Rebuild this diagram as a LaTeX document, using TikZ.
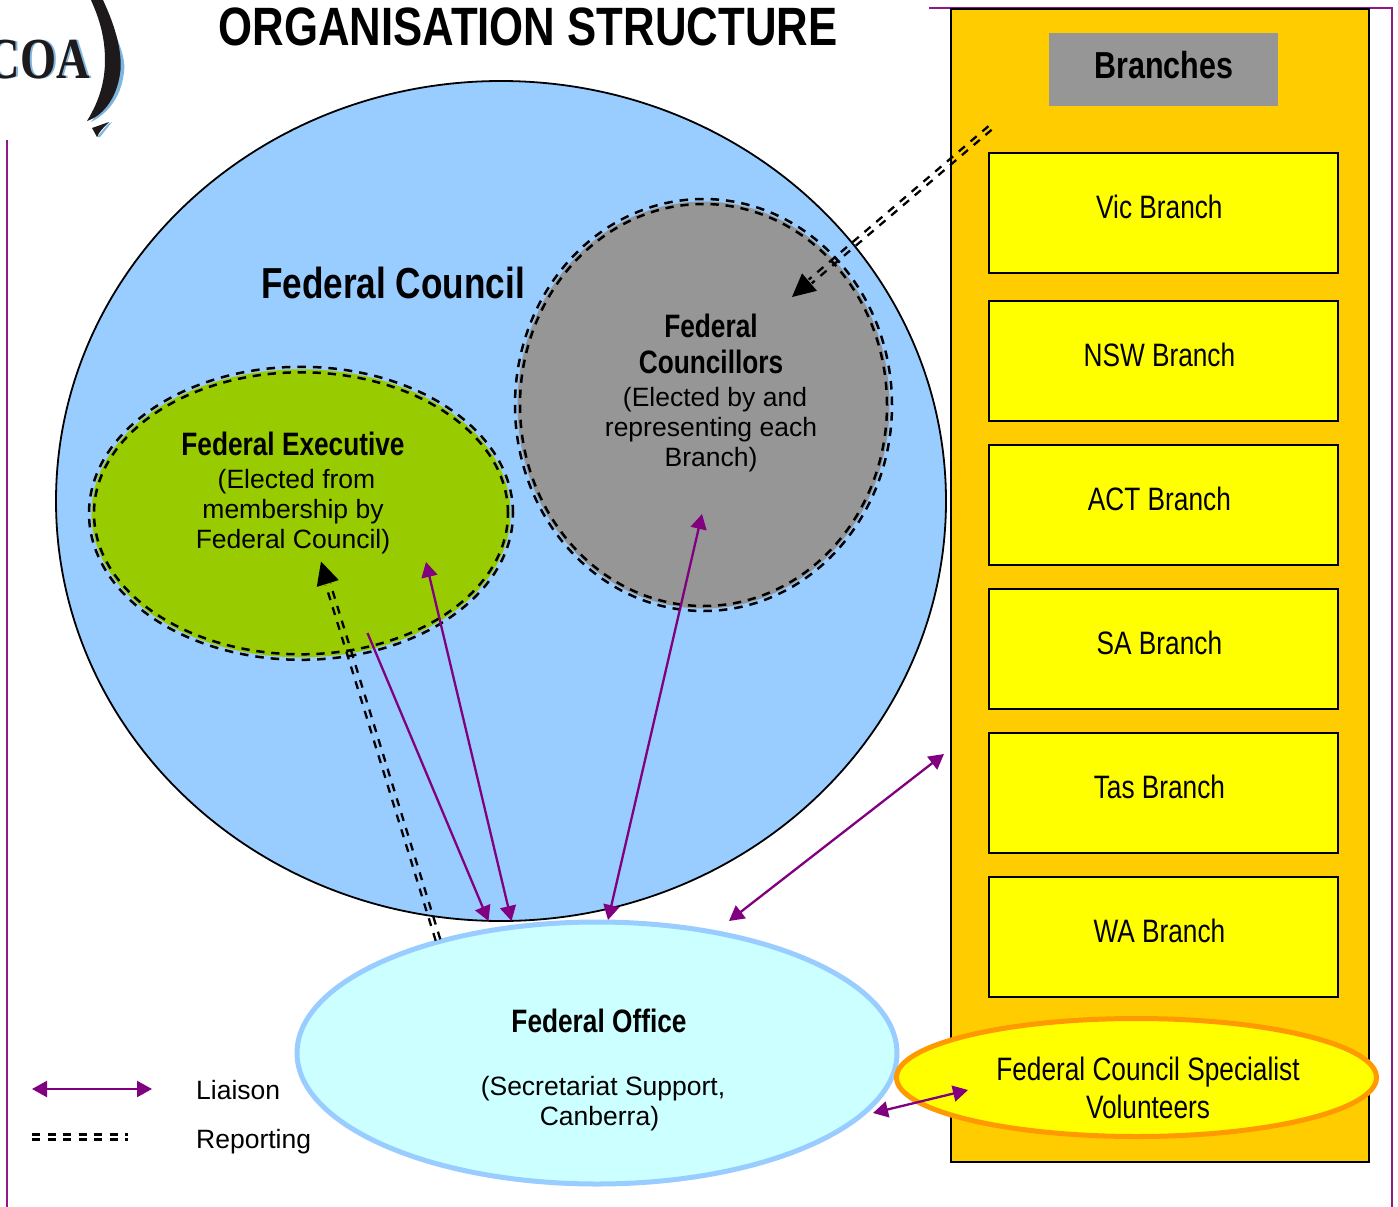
\documentclass[tikz,border=0pt]{standalone}
\usepackage{fontspec}
\usetikzlibrary{shapes.geometric,arrows.meta,calc}
\setmainfont{Liberation Sans}
\newfontfamily\narrowfont[FakeStretch=0.81]{Liberation Sans}
\newfontfamily\logofont[FakeStretch=0.8]{Liberation Serif}
\definecolor{fcblue}{HTML}{99CCFF}
\definecolor{exgreen}{HTML}{99CC00}
\definecolor{cgray}{HTML}{969696}
\definecolor{orangebg}{HTML}{FFCC00}
\definecolor{offcyan}{HTML}{CCFFFF}
\definecolor{volorange}{HTML}{FF9900}
\definecolor{liaison}{HTML}{800080}
\definecolor{logoblue}{HTML}{7FB6E0}
\definecolor{logoblack}{HTML}{1E1A1B}
\definecolor{pureyellow}{HTML}{FFFF00}
\newcommand{\hdf}[1]{{\narrowfont\bfseries\fontsize{32.4}{37}\selectfont #1}}
\newcommand{\blab}[1]{\hspace*{-8pt}\raisebox{13pt}{#1}}
\tikzset{
  oval/.style={ellipse,inner sep=0pt,outer sep=0pt},
  ringdash/.style={draw=black,line width=2.5pt,dash pattern=on 8.5pt off 7pt},
  ringexec/.style={draw=black,line width=2.5pt,dash pattern=on 8.25pt off 6.8pt},
  ringcoun/.style={draw=black,line width=2.5pt,dash pattern=on 8.28pt off 6.82pt},
  branchbox/.style={draw=black,line width=1.8pt,fill=pureyellow,minimum width=349pt,minimum height=120pt,inner sep=0pt,anchor=north west,font=\narrowfont\fontsize{32.4}{36}\selectfont},
  lia/.style={draw=liaison,line width=2.3pt,{Triangle[length=15pt,width=16pt,fill=liaison]}-{Triangle[length=15pt,width=16pt,fill=liaison]}},
  lione/.style={draw=liaison,line width=2.3pt,-{Triangle[length=15pt,width=16pt,fill=liaison]}},
  rep/.style={draw=black,line width=2.3pt,dash pattern=on 8pt off 7.5pt},
  frame/.style={draw=liaison!90!white,line width=2pt},
  bodytext/.style={font=\fontsize{26.5}{30}\selectfont,align=center},
}
\newcommand{\repline}[2]{%
  \draw[rep] ($(#1)!2.4pt!90:(#2)$) -- ($(#2)!2.4pt!-90:(#1)$);
  \draw[rep] ($(#1)!2.4pt!-90:(#2)$) -- ($(#2)!2.4pt!90:(#1)$);
}
\begin{document}
\begin{tikzpicture}[x=1pt,y=-1pt]
\useasboundingbox (0,0) rectangle (1398,1207);
\clip (0,0) rectangle (1398,1207);
% page frame
\coordinate (ftl) at (929,8); \coordinate (ftr) at (1392,8); \coordinate (fbr) at (1392,1207);
\coordinate (fl1) at (7,140); \coordinate (fl2) at (7,1207);
\draw[frame] (ftl) -- (ftr) -- (fbr);
\draw[frame] (fl1) -- (fl2);
% logo
\fill[logoblue] (96,-2) .. controls (112,25) and (127,55) .. (124,72) .. controls (121,100) and (105,115) .. (91,122) .. controls (105,105) and (108,80) .. (108,60) .. controls (108,35) and (102,15) .. (96,-2) -- cycle;
\fill[logoblack] (90,-2) -- (102,-2) .. controls (115,25) and (122,50) .. (120.5,70) .. controls (118,95) and (105,115) .. (87,121) .. controls (100,100) and (105,80) .. (105,60) .. controls (105,35) and (98,15) .. (90,-2) -- cycle;
\fill[logoblue] (100,137) -- (112,122) -- (108,124) -- (97,137) -- cycle;
\fill[logoblack] (92,128) -- (109,122) .. controls (103,128) and (99,132) .. (97,137) -- cycle;
\node[anchor=east,text=logoblue,inner sep=0pt,font=\logofont\bfseries\fontsize{58}{60}\selectfont] (coashadow) at (92,60) {COA};
\node[anchor=east,text=logoblack,inner sep=0pt,font=\logofont\bfseries\fontsize{58}{60}\selectfont] (coa) at (90,59.5) {COA};
% title
\node[font=\narrowfont\bfseries\fontsize{54}{58}\selectfont,inner sep=0pt] (title) at (528,27) {ORGANISATION STRUCTURE};
% branches panel
\node[draw=black,line width=2pt,fill=orangebg,minimum width=417.5pt,minimum height=1152pt,inner sep=0pt,anchor=north west] (panel) at (950,8.5) {};
\node[fill=cgray,minimum width=229pt,minimum height=73pt,inner sep=0pt,anchor=north west] (brhead) at (1049,33) {};
\node[font=\narrowfont\bfseries\fontsize{37.6}{40}\selectfont,inner sep=0pt] (brtext) at (1164,65) {Branches};
\node[branchbox] (vic) at (988,152) {\blab{Vic Branch}};
\node[branchbox] (nsw) at (988,300) {\blab{NSW Branch}};
\node[branchbox] (act) at (988,444) {\blab{ACT Branch}};
\node[branchbox] (sa)  at (988,588) {\blab{SA Branch}};
\node[branchbox] (tas) at (988,732) {\blab{Tas Branch}};
\node[branchbox] (wa)  at (988,876) {\blab{WA Branch}};
% federal council
\node[oval,draw=black,line width=1.8pt,fill=fcblue,minimum width=890pt,minimum height=840pt] (council) at (501,501) {};
\node[font=\narrowfont\bfseries\fontsize{43.4}{46}\selectfont,inner sep=0pt] (counciltext) at (393,283) {Federal Council};
% councillors
\node[oval,fill=cgray,minimum width=372pt,minimum height=407pt] (cillors) at (703.5,405) {};
\node[oval,ringdash,minimum width=377pt,minimum height=412pt] (cillorsa) at (703.5,405) {};
\node[oval,ringcoun,minimum width=367pt,minimum height=402pt] (cillorsb) at (703.5,405) {};
\node[bodytext,inner sep=0pt] (cillorstext) at (711,393) {\hdf{Federal}\\[6pt]\hdf{Councillors}\\[3pt]\hspace*{8pt}(Elected by and\\representing each\\Branch)};
% executive
\node[oval,fill=exgreen,minimum width=419pt,minimum height=288pt] (exec) at (301,513.3) {};
\node[oval,ringdash,minimum width=424pt,minimum height=293pt] (execa) at (301,513.3) {};
\node[oval,ringexec,minimum width=414pt,minimum height=282pt] (execb) at (301,513.3) {};
\node[bodytext,inner sep=0pt] (exectext) at (293,493) {\hdf{Federal Executive}\\[3pt]\hspace*{7pt}(Elected from\\membership by\\Federal Council)};
% federal office
\node[oval,draw=fcblue,line width=5pt,fill=offcyan,minimum width=600pt,minimum height=262pt] (office) at (597,1053) {};
\node[inner sep=0pt] (officehead) at (599,1021) {\hdf{Federal Office}};
\node[bodytext,inner sep=0pt] (officetext) at (603,1104) {(Secretariat Support,\\\hspace*{-7pt}Canberra)};
% volunteers
\node[oval,draw=volorange,line width=5pt,fill=pureyellow,minimum width=480pt,minimum height=118pt] (vol) at (1136.5,1077.5) {};
\node[font=\narrowfont\fontsize{32.4}{38}\selectfont,align=center,inner sep=0pt] (voltext) at (1148,1088) {Federal Council Specialist\\Volunteers};
% connector ends
\coordinate (r1a) at (438,940); \coordinate (r1b) at (321,561.5);
\coordinate (r2a) at (990,128); \coordinate (r2b) at (792,297);
\coordinate (l1a) at (367.5,633); \coordinate (l1b) at (488.5,921);
\coordinate (l2a) at (511.5,921); \coordinate (l2b) at (426,562);
\coordinate (l3a) at (608,920); \coordinate (l3b) at (702,514);
\coordinate (l4a) at (944,754); \coordinate (l4b) at (729,921);
\coordinate (l5a) at (873,1113); \coordinate (l5b) at (968,1090);
\coordinate (lga) at (32,1089); \coordinate (lgb) at (152,1089);
\coordinate (rga) at (32,1137); \coordinate (rgb) at (128,1137);
% reporting
\coordinate (r1s) at ($(r1b)!24pt!(r1a)$);
\coordinate (r2s) at ($(r2b)!24pt!(r2a)$);
\repline{r1a}{r1s}
\repline{r2a}{r2s}
\fill[black] (r1b) -- ($(r1b)!23pt!(r1a)!11.5pt!90:(r1a)$) -- ($(r1b)!23pt!(r1a)!11.5pt!-90:(r1a)$) -- cycle;
\fill[black] (r2b) -- ($(r2b)!23pt!(r2a)!11.5pt!90:(r2a)$) -- ($(r2b)!23pt!(r2a)!11.5pt!-90:(r2a)$) -- cycle;
\repline{rga}{rgb}
% liaison
\draw[lione] (l1a) -- (l1b);
\draw[lia] (l2a) -- (l2b);
\draw[lia] (l3a) -- (l3b);
\draw[lia] (l4a) -- (l4b);
\draw[lia] (l5a) -- (l5b);
\draw[lia] (lga) -- (lgb);
% legend
\node[anchor=west,inner sep=0pt,font=\fontsize{26.5}{30}\selectfont] (lgl) at (196,1090) {Liaison};
\node[anchor=west,inner sep=0pt,font=\fontsize{26.5}{30}\selectfont] (lgr) at (196,1142) {Reporting};
\end{tikzpicture}
\end{document}
